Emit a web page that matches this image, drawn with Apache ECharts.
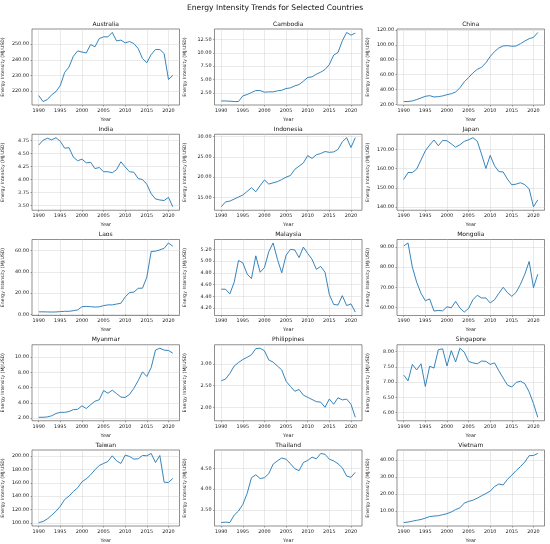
<!DOCTYPE html>
<html><head><meta charset="utf-8">
<script src="https://cdn.jsdelivr.net/npm/echarts@6/dist/echarts.min.js"></script>
<style>html,body{margin:0;padding:0;background:#fff}#c{width:550px;height:544px}</style>
</head><body><div id="c"></div>
<script>
const years = [1990,1991,1992,1993,1994,1995,1996,1997,1998,1999,2000,2001,2002,2003,2004,2005,2006,2007,2008,2009,2010,2011,2012,2013,2014,2015,2016,2017,2018,2019,2020,2021];
const xTicks = [1990,1995,2000,2005,2010,2015,2020];
const countries = ["Australia","Cambodia","China","India","Indonesia","Japan","Laos","Malaysia","Mongolia","Myanmar","Philippines","Singapore","Taiwan","Thailand","Vietnam"];

const australia = [217.2,213.4,214.7,217.7,219.8,223.7,232.0,235.4,242.3,245.7,245.0,244.4,249.8,248.3,253.6,254.7,254.7,257.5,252.1,252.6,250.9,251.7,250.4,247.2,240.8,238.2,243.4,246.6,246.6,244.0,227.5,230.1];
const cambodia = [0.99,0.99,0.94,0.88,0.88,1.94,2.19,2.56,2.94,2.94,2.63,2.69,2.69,2.88,3.0,3.31,3.44,3.81,4.06,4.69,5.38,5.5,6.0,6.38,6.88,7.81,9.56,10.06,12.25,13.81,13.31,13.69];
const china = [24.0,24.0,24.8,26.6,28.8,31.0,31.9,30.1,30.6,31.5,33.2,34.5,36.7,42.5,50.4,56.1,62.3,67.1,69.8,75.9,84.3,90.9,95.8,98.4,98.9,98.0,98.4,101.5,105.0,108.1,109.9,116.5];
const india = [4.66,4.75,4.79,4.76,4.80,4.73,4.60,4.61,4.43,4.36,4.39,4.32,4.33,4.21,4.23,4.15,4.15,4.13,4.19,4.34,4.24,4.15,4.14,4.02,4.00,3.91,3.73,3.63,3.61,3.60,3.66,3.48];
const indonesia = [12.7,13.9,14.1,14.6,15.1,15.6,16.5,17.4,16.4,17.9,19.3,18.3,18.6,18.9,19.4,20.0,20.4,21.9,22.7,23.5,25.3,24.6,25.5,25.8,26.3,26.1,26.2,26.8,28.7,29.7,27.3,29.7];
const japan = [154.4,158.0,158.0,159.8,164.5,169.3,172.3,174.9,171.9,174.7,174.5,172.9,171.2,172.4,174.2,175.0,176.1,174.3,167.5,160.1,166.9,161.5,158.5,158.3,154.5,151.6,152.0,152.7,151.7,149.5,140.2,143.8];
const laos = [2.5,2.5,2.4,2.3,2.4,2.7,3.0,3.0,3.6,4.3,7.3,7.6,7.3,7.0,7.2,8.3,9.0,9.0,9.8,10.5,16.5,20.5,21.0,24.5,24.7,35.0,59.0,59.3,60.5,62.0,67.0,64.0];
const malaysia = [4.52,4.52,4.44,4.64,5.01,4.97,4.78,4.70,5.09,4.81,4.89,5.16,5.31,5.03,4.80,5.10,5.20,5.19,5.06,5.24,5.13,5.03,4.86,4.91,4.81,4.43,4.26,4.25,4.41,4.24,4.27,4.13];
const mongolia = [90.5,92.0,80.0,72.5,67.0,63.3,64.2,58.2,58.5,58.3,60.3,59.8,63.0,59.7,57.7,59.5,63.8,66.0,64.7,64.7,62.2,63.8,67.0,70.0,67.3,65.5,67.5,71.5,76.5,82.8,69.8,76.5];
const myanmar = [2.1,2.1,2.15,2.3,2.6,2.75,2.75,2.85,3.1,3.15,3.6,3.25,3.75,4.2,4.4,5.6,5.25,5.65,5.2,4.75,4.7,5.1,5.9,6.9,8.05,7.45,8.6,10.9,11.15,10.9,10.85,10.5];
const philippines = [2.61,2.65,2.78,2.95,3.03,3.10,3.15,3.21,3.35,3.36,3.30,3.09,3.04,2.95,2.86,2.60,2.48,2.37,2.41,2.28,2.23,2.18,2.13,2.12,2.00,2.19,2.07,2.22,2.17,2.19,2.07,1.77];
const singapore = [7.23,7.04,7.58,7.40,7.60,6.86,7.52,7.46,8.06,8.09,7.53,8.03,7.66,8.11,7.98,7.68,7.63,7.60,7.69,7.68,7.58,7.63,7.37,7.13,6.90,6.84,6.99,7.03,6.95,6.68,6.30,5.85];
const taiwan = [100.5,102.0,106.0,111.5,117.5,125.0,135.0,140.0,147.0,152.5,161.5,166.0,172.0,179.5,186.0,189.0,192.0,200.5,193.0,189.0,201.5,199.5,195.5,196.0,201.0,200.5,204.0,190.5,201.0,161.0,160.5,166.5];
const thailand = [3.19,3.20,3.19,3.37,3.47,3.63,3.90,4.28,4.35,4.26,4.28,4.38,4.61,4.69,4.76,4.73,4.62,4.50,4.45,4.65,4.70,4.78,4.74,4.87,4.85,4.73,4.69,4.62,4.52,4.32,4.29,4.41];
const vietnam = [3.2,3.5,4.0,4.5,5.0,5.8,6.7,7.0,7.2,7.8,8.4,9.4,10.8,11.8,14.6,15.6,16.3,17.5,18.9,20.2,21.6,24.3,25.8,25.2,28.6,31.0,33.7,36.0,38.7,42.4,42.5,43.7];

const seriesValues = [australia,cambodia,china,india,indonesia,japan,laos,malaysia,mongolia,myanmar,philippines,singapore,taiwan,thailand,vietnam];

const yTicks = [
  [220,230,240,250],
  [2.5,5,7.5,10,12.5],
  [20,40,60,80,100,120],
  [3.5,3.75,4,4.25,4.5,4.75],
  [15,20,25,30],
  [140,150,160,170],
  [0,20,40,60],
  [4.2,4.4,4.6,4.8,5.0,5.2],
  [60,70,80,90],
  [2,4,6,8,10],
  [2.0,2.5,3.0],
  [6.0,6.5,7.0,7.5,8.0],
  [100,120,140,160,180,200],
  [3.5,4.0,4.5],
  [10,20,30,40]
];

const FONT = 'DejaVu Sans';
const colLeft = [32, 214.5, 397];
const gw = 147.5, gh = 76;
const rowTop = [29, 134.25, 239.5, 344.75, 450];

const grids = [], xAxes = [], yAxes = [], series = [], titles = [];
titles.push({text:'Energy Intensity Trends for Selected Countries', left:275, top:4, padding:0, textAlign:'center',
  textStyle:{fontFamily:FONT, fontSize:7.6, fontWeight:'normal', color:'#111'}});
const xMin = 1990 - 0.05*31, xMax = 2021 + 0.05*31;
countries.forEach((name, i) => {
  const r = Math.floor(i/3), c = i%3;
  const vals = seriesValues[i];
  const lo = Math.min(...vals), hi = Math.max(...vals);
  const m = (hi-lo)*0.05;
  const yMin = lo - m, yMax = hi + m;
  const ticks = yTicks[i].filter(v => v >= yMin && v <= yMax);
  grids.push({left:colLeft[c], top:rowTop[r], width:gw, height:gh, show:true, borderColor:'#444', borderWidth:0.6, outerBoundsMode:'none'});
  titles.push({text:name, left:colLeft[c]+gw/2, top:rowTop[r]-8, padding:0, textAlign:'center',
    textStyle:{fontFamily:FONT, fontSize:6, fontWeight:'normal', color:'#111'}});
  xAxes.push({type:'value', gridIndex:i, min:xMin, max:xMax,
    name:'Year', nameLocation:'middle', nameGap:12, nameTextStyle:{fontFamily:FONT, fontSize:4.9, color:'#222'},
    axisLine:{show:false},
    axisTick:{show:true, length:1.5, lineStyle:{color:'#444', width:0.5}, customValues:xTicks},
    axisLabel:{fontFamily:FONT, fontSize:4.9, color:'#222', margin:3, customValues:xTicks, formatter:v=>String(Math.round(Number(v)))},
    splitLine:{show:true, lineStyle:{color:'#d4d4d4', width:0.5}}});
  yAxes.push({type:'value', gridIndex:i, min:yMin, max:yMax,
    name:'Energy Intensity (MJ/USD)', nameLocation:'middle', nameGap:27, nameRotate:90,
    nameTextStyle:{fontFamily:FONT, fontSize:4.6, color:'#222'},
    axisLine:{show:false},
    axisTick:{show:true, length:1.5, lineStyle:{color:'#444', width:0.5}, customValues:ticks},
    axisLabel:{fontFamily:FONT, fontSize:4.9, color:'#222', margin:3, customValues:ticks, formatter:v=>Number(v).toFixed(2)},
    splitLine:{show:true, lineStyle:{color:'#d4d4d4', width:0.5}}});
  series.push({type:'line', xAxisIndex:i, yAxisIndex:i, showSymbol:false, animation:false,
    data: years.map((y,k)=>[y, vals[k]]),
    lineStyle:{color:'#1f77b4', width:0.9}, itemStyle:{color:'#1f77b4'}});
});

const chart = echarts.init(document.getElementById('c'), null, {renderer:'canvas'});
chart.setOption({animation:false, backgroundColor:'#fff', title:titles, grid:grids, xAxis:xAxes, yAxis:yAxes, series:series});
</script></body></html>
